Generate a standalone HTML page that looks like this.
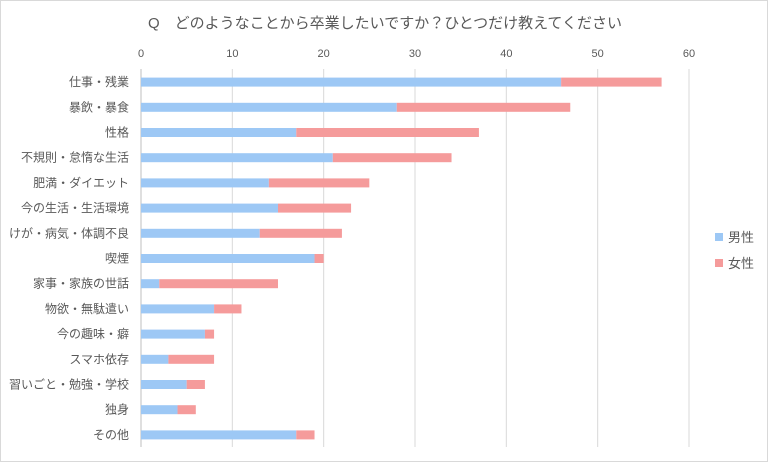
<!DOCTYPE html>
<html><head><meta charset="utf-8"><style>
body{margin:0;background:#fff;font-family:"Liberation Sans","Noto Sans CJK JP",sans-serif;}
#c{position:relative;width:768px;height:462px;box-sizing:border-box;border:1px solid #d9d9d9;}
</style></head><body>
<div id="c">
<svg id="s" width="768" height="462" style="position:absolute;left:0;top:0"></svg>
</div>
<script>
const categories=["仕事・残業","暴飲・暴食","性格","不規則・怠惰な生活","肥満・ダイエット","今の生活・生活環境","けが・病気・体調不良","喫煙","家事・家族の世話","物欲・無駄遣い","今の趣味・癖","スマホ依存","習いごと・勉強・学校","独身","その他"];
const male=[46,28,17,21,14,15,13,19,2,8,7,3,5,4,17];
const female=[11,19,20,13,11,8,9,1,13,3,1,5,2,2,2];
const ticks=[0,10,20,30,40,50,60];
const seriesNames=["男性","女性"];
const colors=["#9dc8f5","#f59b9b"];
const NS="http://www.w3.org/2000/svg",svg=document.getElementById('s');
const x0=140,x1=688,xmax=60,yTop=68.5,step=25.2,bh=9;
const xs=v=>x0+v/xmax*(x1-x0);
const yc=i=>yTop+step*(i+0.5);
function mk(t,a,txt){const e=document.createElementNS(NS,t);for(const k in a)e.setAttribute(k,a[k]);if(txt!=null)e.textContent=txt;svg.appendChild(e);return e;}
let e=mk('text',{x:384,y:27,'text-anchor':'middle','font-size':15,fill:'#595959'},"Q　どのようなことから卒業したいですか？ひとつだけ教えてください");


ticks.forEach(t=>{
 let g=mk('line',{x1:xs(t),x2:xs(t),y1:68,y2:446,stroke:t===0?'#bfbfbf':'#d9d9d9','stroke-width':1});
 
 
 let l=mk('text',{x:xs(t),y:56,'text-anchor':'middle','font-size':11,fill:'#595959'},t);
 
 
});
categories.forEach((c,i)=>{
 let l=mk('text',{x:128,y:yc(i)+4,'text-anchor':'end','font-size':12,fill:'#595959'},c);
 
 
 let b=mk('rect',{x:xs(0),y:yc(i)-bh/2,width:xs(male[i])-xs(0),height:bh,fill:colors[0]});
 
 
 let f=mk('rect',{x:xs(male[i]),y:yc(i)-bh/2,width:xs(male[i]+female[i])-xs(male[i]),height:bh,fill:colors[1]});
 
 
});
seriesNames.forEach((n,i)=>{
 let r=mk('rect',{x:714,y:232+i*26,width:8,height:8,fill:colors[i]});
 
 
 let t=mk('text',{x:727,y:241+i*26,'font-size':13,fill:'#595959'},n);
 
 
});
</script>
</body></html>
